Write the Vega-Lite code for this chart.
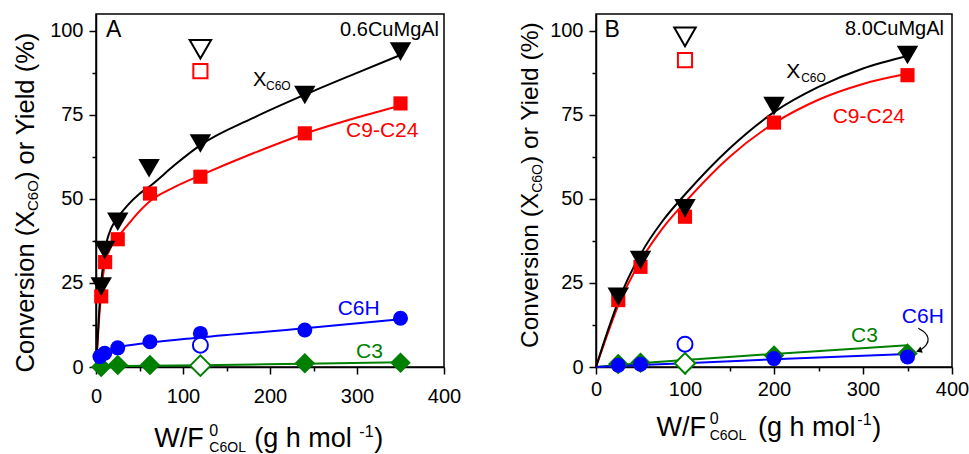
{
  "$schema": "https://vega.github.io/schema/vega-lite/v6.json",
  "background": "white",
  "padding": {"left": 13, "top": 13, "right": 10, "bottom": 0},
  "spacing": 152,
  "bounds": "flush",
  "config": {
    "view": {"stroke": "black", "strokeWidth": 1.5},
    "font": "Liberation Sans",
    "axis": {"domainColor": "black", "domainWidth": 1.5, "tickColor": "black", "tickWidth": 1.5, "labelColor": "black", "labelFont": "Liberation Sans", "labelFontSize": 20, "grid": false, "labelOverlap": false, "labelFlush": false},
    "text": {"font": "Liberation Sans"}
  },
  "datasets": {
    "fitA": [
      {"s": "C3", "x": 0, "y": 0.2}, {"s": "C3", "x": 60, "y": 0.4}, {"s": "C3", "x": 120, "y": 0.5}, {"s": "C3", "x": 240, "y": 1.0}, {"s": "C3", "x": 350, "y": 1.4},
      {"s": "C6H", "x": 0, "y": 3}, {"s": "C6H", "x": 5, "y": 3.9}, {"s": "C6H", "x": 10, "y": 4.6}, {"s": "C6H", "x": 25, "y": 5.8}, {"s": "C6H", "x": 60, "y": 7.2}, {"s": "C6H", "x": 120, "y": 8.8}, {"s": "C6H", "x": 240, "y": 11.5}, {"s": "C6H", "x": 350, "y": 14.2},
      {"s": "C9", "x": 0, "y": 0}, {"s": "C9", "x": 2, "y": 8}, {"s": "C9", "x": 4, "y": 16}, {"s": "C9", "x": 6, "y": 22}, {"s": "C9", "x": 8, "y": 27}, {"s": "C9", "x": 10, "y": 30.5}, {"s": "C9", "x": 15, "y": 34.5}, {"s": "C9", "x": 20, "y": 37}, {"s": "C9", "x": 25, "y": 38.7}, {"s": "C9", "x": 35, "y": 41.8}, {"s": "C9", "x": 42, "y": 44}, {"s": "C9", "x": 63, "y": 49.5}, {"s": "C9", "x": 90, "y": 53.5}, {"s": "C9", "x": 120, "y": 57}, {"s": "C9", "x": 180, "y": 63.5}, {"s": "C9", "x": 240, "y": 69.4}, {"s": "C9", "x": 300, "y": 74.2}, {"s": "C9", "x": 350, "y": 77.8},
      {"s": "X", "x": 0, "y": 0}, {"s": "X", "x": 2, "y": 9}, {"s": "X", "x": 4, "y": 18}, {"s": "X", "x": 6, "y": 25}, {"s": "X", "x": 8, "y": 30}, {"s": "X", "x": 10, "y": 34}, {"s": "X", "x": 13, "y": 38}, {"s": "X", "x": 17, "y": 41}, {"s": "X", "x": 21, "y": 43}, {"s": "X", "x": 25, "y": 44.5}, {"s": "X", "x": 36, "y": 48}, {"s": "X", "x": 50, "y": 51.5}, {"s": "X", "x": 63, "y": 54}, {"s": "X", "x": 90, "y": 60}, {"s": "X", "x": 120, "y": 66}, {"s": "X", "x": 180, "y": 74}, {"s": "X", "x": 240, "y": 81}, {"s": "X", "x": 300, "y": 87.5}, {"s": "X", "x": 350, "y": 92.8}
    ],
    "ptsA": [
      {"s": "C3", "x": 6, "y": 0, "o": 0}, {"s": "C3", "x": 25, "y": 0.6, "o": 0}, {"s": "C3", "x": 62, "y": 0.6, "o": 0}, {"s": "C3", "x": 240, "y": 1.1, "o": 0}, {"s": "C3", "x": 350, "y": 1.3, "o": 0}, {"s": "C3", "x": 120, "y": 0.4, "o": 1},
      {"s": "C6H", "x": 4.5, "y": 3.1, "o": 0}, {"s": "C6H", "x": 10, "y": 4.1, "o": 0}, {"s": "C6H", "x": 25, "y": 5.7, "o": 0}, {"s": "C6H", "x": 62, "y": 7.5, "o": 0}, {"s": "C6H", "x": 120, "y": 10, "o": 0}, {"s": "C6H", "x": 240, "y": 11, "o": 0}, {"s": "C6H", "x": 350, "y": 14.5, "o": 0}, {"s": "C6H", "x": 120, "y": 6.5, "o": 1},
      {"s": "C9", "x": 6, "y": 21, "o": 0}, {"s": "C9", "x": 10.5, "y": 31.2, "o": 0}, {"s": "C9", "x": 25, "y": 38, "o": 0}, {"s": "C9", "x": 62, "y": 51.6, "o": 0}, {"s": "C9", "x": 120, "y": 56.6, "o": 0}, {"s": "C9", "x": 240, "y": 69.5, "o": 0}, {"s": "C9", "x": 350, "y": 78.4, "o": 0}, {"s": "C9", "x": 120, "y": 88, "o": 1},
      {"s": "X", "x": 6, "y": 23.9, "o": 0}, {"s": "X", "x": 10, "y": 34.8, "o": 0}, {"s": "X", "x": 25, "y": 43.2, "o": 0}, {"s": "X", "x": 61, "y": 59.1, "o": 0}, {"s": "X", "x": 120, "y": 66.5, "o": 0}, {"s": "X", "x": 240, "y": 80.9, "o": 0}, {"s": "X", "x": 350, "y": 93.8, "o": 0}, {"s": "X", "x": 120, "y": 94.5, "o": 1}
    ],
    "fitB": [
      {"s": "C3", "x": 0, "y": 0}, {"s": "C3", "x": 25, "y": 0.6}, {"s": "C3", "x": 50, "y": 1.1}, {"s": "C3", "x": 100, "y": 2.1}, {"s": "C3", "x": 200, "y": 3.9}, {"s": "C3", "x": 350, "y": 6.5},
      {"s": "C6H", "x": 0, "y": 0}, {"s": "C6H", "x": 25, "y": 0.3}, {"s": "C6H", "x": 50, "y": 0.6}, {"s": "C6H", "x": 100, "y": 1.1}, {"s": "C6H", "x": 200, "y": 2.3}, {"s": "C6H", "x": 350, "y": 3.9},
      {"s": "C9", "x": 0, "y": 0}, {"s": "C9", "x": 10, "y": 7.6}, {"s": "C9", "x": 25, "y": 18.3}, {"s": "C9", "x": 50, "y": 31.5}, {"s": "C9", "x": 75, "y": 41.3}, {"s": "C9", "x": 100, "y": 49}, {"s": "C9", "x": 150, "y": 62.5}, {"s": "C9", "x": 200, "y": 72.5}, {"s": "C9", "x": 250, "y": 79.5}, {"s": "C9", "x": 300, "y": 84.2}, {"s": "C9", "x": 350, "y": 87.2},
      {"s": "X", "x": 0, "y": 0}, {"s": "X", "x": 10, "y": 8.2}, {"s": "X", "x": 25, "y": 19.5}, {"s": "X", "x": 50, "y": 33.5}, {"s": "X", "x": 75, "y": 43.5}, {"s": "X", "x": 100, "y": 51.3}, {"s": "X", "x": 150, "y": 65}, {"s": "X", "x": 200, "y": 75.8}, {"s": "X", "x": 250, "y": 83.3}, {"s": "X", "x": 300, "y": 88.8}, {"s": "X", "x": 350, "y": 92.5}
    ],
    "ptsB": [
      {"s": "C3", "x": 25, "y": 0.9, "o": 0}, {"s": "C3", "x": 50, "y": 1.3, "o": 0}, {"s": "C3", "x": 200, "y": 3.4, "o": 0}, {"s": "C3", "x": 350, "y": 4.0, "o": 0}, {"s": "C3", "x": 100, "y": 1.1, "o": 1},
      {"s": "C6H", "x": 25, "y": 0.5, "o": 0}, {"s": "C6H", "x": 50, "y": 0.8, "o": 0}, {"s": "C6H", "x": 200, "y": 2.5, "o": 0}, {"s": "C6H", "x": 350, "y": 3.0, "o": 0}, {"s": "C6H", "x": 100, "y": 6.8, "o": 1},
      {"s": "C9", "x": 25, "y": 19.9, "o": 0}, {"s": "C9", "x": 50, "y": 29.8, "o": 0}, {"s": "C9", "x": 100, "y": 44.7, "o": 0}, {"s": "C9", "x": 200, "y": 72.7, "o": 0}, {"s": "C9", "x": 350, "y": 86.8, "o": 0}, {"s": "C9", "x": 100, "y": 91.3, "o": 1},
      {"s": "X", "x": 25, "y": 20.9, "o": 0}, {"s": "X", "x": 50, "y": 31.8, "o": 0}, {"s": "X", "x": 100, "y": 47.2, "o": 0}, {"s": "X", "x": 200, "y": 77.6, "o": 0}, {"s": "X", "x": 350, "y": 92.8, "o": 0}, {"s": "X", "x": 100, "y": 98.2, "o": 1}
    ],
    "arrB": [
      {"i": 0, "x": 362.2, "y": 11.5}, {"i": 1, "x": 369.7, "y": 10.4}, {"i": 2, "x": 374.2, "y": 8.6}, {"i": 3, "x": 372.0, "y": 6.5}, {"i": 4, "x": 365.3, "y": 5.2}
    ],
    "one": [{}]
  },
  "hconcat": [
    {
      "width": 348,
      "height": 353,
      "layer": [
        {
          "data": {"name": "fitA"},
          "mark": {"type": "line", "interpolate": "monotone", "strokeWidth": 2},
          "encoding": {
            "x": {"field": "x", "type": "quantitative", "title": null, "scale": {"domain": [0, 400], "nice": false, "zero": false},
              "axis": {"values": [0, 50, 100, 150, 200, 250, 300, 350, 400], "format": "d", "labelExpr": "datum.value % 100 === 0 ? datum.label : ''", "tickSize": {"condition": {"test": "datum.value % 100 === 0", "value": 7}, "value": 4}, "labelPadding": 12, "title": null}},
            "y": {"field": "y", "type": "quantitative", "title": null, "scale": {"domain": [0, 105], "nice": false, "zero": false},
              "axis": {"values": [0, 12.5, 25, 37.5, 50, 62.5, 75, 87.5, 100], "labelExpr": "datum.value % 25 === 0 ? format(datum.value, 'd') : ''", "tickSize": {"condition": {"test": "datum.value % 25 === 0", "value": 7}, "value": 4}, "labelPadding": 6, "title": null}},
            "color": {"field": "s", "type": "nominal", "scale": {"domain": ["C3", "C6H", "C9", "X"], "range": ["#008000", "#0000FF", "#FF0000", "#000000"]}, "legend": null}
          }
        },
        {
          "data": {"name": "ptsA"},
          "transform": [{"filter": "datum.o == 0"}],
          "mark": {"type": "point", "filled": true, "opacity": 1},
          "encoding": {
            "x": {"field": "x", "type": "quantitative", "title": null},
            "y": {"field": "y", "type": "quantitative", "title": null},
            "color": {"field": "s", "type": "nominal", "legend": null},
            "shape": {"field": "s", "type": "nominal", "scale": {"domain": ["C3", "C6H", "C9", "X"], "range": ["diamond", "circle", "square", "triangle-down"]}, "legend": null},
            "size": {"field": "s", "type": "nominal", "scale": {"type": "ordinal", "domain": ["C3", "C6H", "C9", "X"], "range": [420, 225, 200, 460]}, "legend": null}
          }
        },
        {
          "data": {"name": "ptsA"},
          "transform": [{"filter": "datum.o == 1"}],
          "mark": {"type": "point", "filled": false, "fill": "white", "fillOpacity": 1, "strokeWidth": 2, "opacity": 1},
          "encoding": {
            "x": {"field": "x", "type": "quantitative", "title": null},
            "y": {"field": "y", "type": "quantitative", "title": null},
            "color": {"field": "s", "type": "nominal", "legend": null},
            "shape": {"field": "s", "type": "nominal", "scale": {"domain": ["C3", "C6H", "C9", "X"], "range": ["diamond", "circle", "square", "triangle-down"]}, "legend": null},
            "size": {"field": "s", "type": "nominal", "scale": {"type": "ordinal", "domain": ["C3", "C6H", "C9", "X"], "range": [420, 225, 200, 460]}, "legend": null}
          }
        },
        {"data": {"name": "one"}, "mark": {"type": "text", "text": "A", "align": "left", "baseline": "alphabetic", "fontSize": 23, "color": "black"}, "encoding": {"x": {"datum": 11.5, "type": "quantitative"}, "y": {"datum": 98.3, "type": "quantitative"}}},
        {"data": {"name": "one"}, "mark": {"type": "text", "text": "0.6CuMgAl", "align": "right", "baseline": "alphabetic", "fontSize": 20, "color": "black"}, "encoding": {"x": {"datum": 394.3, "type": "quantitative"}, "y": {"datum": 98.5, "type": "quantitative"}}},
        {"data": {"name": "one"}, "mark": {"type": "text", "text": "X", "align": "left", "baseline": "alphabetic", "fontSize": 20, "color": "black"}, "encoding": {"x": {"datum": 180.5, "type": "quantitative"}, "y": {"datum": 83.6, "type": "quantitative"}}},
        {"data": {"name": "one"}, "mark": {"type": "text", "text": "C6O", "align": "left", "baseline": "alphabetic", "fontSize": 12, "color": "black"}, "encoding": {"x": {"datum": 195.4, "type": "quantitative"}, "y": {"datum": 82.5, "type": "quantitative"}}},
        {"data": {"name": "one"}, "mark": {"type": "text", "text": "C9-C24", "align": "left", "baseline": "alphabetic", "fontSize": 21, "color": "#FF0000"}, "encoding": {"x": {"datum": 287.4, "type": "quantitative"}, "y": {"datum": 68.5, "type": "quantitative"}}},
        {"data": {"name": "one"}, "mark": {"type": "text", "text": "C6H", "align": "left", "baseline": "alphabetic", "fontSize": 21, "color": "#0000FF"}, "encoding": {"x": {"datum": 277.8, "type": "quantitative"}, "y": {"datum": 15.5, "type": "quantitative"}}},
        {"data": {"name": "one"}, "mark": {"type": "text", "text": "C3", "align": "left", "baseline": "alphabetic", "fontSize": 21, "color": "#008000"}, "encoding": {"x": {"datum": 298.9, "type": "quantitative"}, "y": {"datum": 2.6, "type": "quantitative"}}},
        {"data": {"name": "one"}, "mark": {"type": "text", "text": "W/F", "align": "left", "baseline": "alphabetic", "fontSize": 27, "color": "black"}, "encoding": {"x": {"datum": 67.0, "type": "quantitative"}, "y": {"datum": -23.8, "type": "quantitative"}}},
        {"data": {"name": "one"}, "mark": {"type": "text", "text": "0", "align": "left", "baseline": "alphabetic", "fontSize": 16, "color": "black"}, "encoding": {"x": {"datum": 130.3, "type": "quantitative"}, "y": {"datum": -20.4, "type": "quantitative"}}},
        {"data": {"name": "one"}, "mark": {"type": "text", "text": "C6OL", "align": "left", "baseline": "alphabetic", "fontSize": 14, "color": "black"}, "encoding": {"x": {"datum": 130.3, "type": "quantitative"}, "y": {"datum": -25.4, "type": "quantitative"}}},
        {"data": {"name": "one"}, "mark": {"type": "text", "text": "(g h mol", "align": "left", "baseline": "alphabetic", "fontSize": 27, "color": "black"}, "encoding": {"x": {"datum": 182.0, "type": "quantitative"}, "y": {"datum": -23.8, "type": "quantitative"}}},
        {"data": {"name": "one"}, "mark": {"type": "text", "text": "-1", "align": "left", "baseline": "alphabetic", "fontSize": 16, "color": "black"}, "encoding": {"x": {"datum": 302.7, "type": "quantitative"}, "y": {"datum": -20.7, "type": "quantitative"}}},
        {"data": {"name": "one"}, "mark": {"type": "text", "text": ")", "align": "left", "baseline": "alphabetic", "fontSize": 27, "color": "black"}, "encoding": {"x": {"datum": 319.9, "type": "quantitative"}, "y": {"datum": -23.8, "type": "quantitative"}}},
        {"data": {"name": "one"}, "mark": {"type": "text", "text": "Conversion (X", "align": "left", "baseline": "alphabetic", "angle": 270, "fontSize": 25.5, "color": "black"}, "encoding": {"x": {"datum": -71.3, "type": "quantitative"}, "y": {"datum": -1.6, "type": "quantitative"}}},
        {"data": {"name": "one"}, "mark": {"type": "text", "text": "C6O", "align": "left", "baseline": "alphabetic", "angle": 270, "fontSize": 15, "color": "black"}, "encoding": {"x": {"datum": -67.2, "type": "quantitative"}, "y": {"datum": 46.4, "type": "quantitative"}}},
        {"data": {"name": "one"}, "mark": {"type": "text", "text": ") or Yield (%)", "align": "left", "baseline": "alphabetic", "angle": 270, "fontSize": 25.5, "color": "black"}, "encoding": {"x": {"datum": -71.3, "type": "quantitative"}, "y": {"datum": 55.6, "type": "quantitative"}}}
      ]
    },
    {
      "width": 356,
      "height": 353,
      "layer": [
        {
          "data": {"name": "fitB"},
          "mark": {"type": "line", "interpolate": "monotone", "strokeWidth": 2},
          "encoding": {
            "x": {"field": "x", "type": "quantitative", "title": null, "scale": {"domain": [0, 400], "nice": false, "zero": false},
              "axis": {"values": [0, 50, 100, 150, 200, 250, 300, 350, 400], "format": "d", "labelExpr": "datum.value % 100 === 0 ? datum.label : ''", "tickSize": {"condition": {"test": "datum.value % 100 === 0", "value": 7}, "value": 4}, "labelPadding": 5, "title": null}},
            "y": {"field": "y", "type": "quantitative", "title": null, "scale": {"domain": [0, 105], "nice": false, "zero": false},
              "axis": {"values": [0, 12.5, 25, 37.5, 50, 62.5, 75, 87.5, 100], "labelExpr": "datum.value % 25 === 0 ? format(datum.value, 'd') : ''", "tickSize": {"condition": {"test": "datum.value % 25 === 0", "value": 7}, "value": 4}, "labelPadding": 6, "title": null}},
            "color": {"field": "s", "type": "nominal", "scale": {"domain": ["C3", "C6H", "C9", "X"], "range": ["#008000", "#0000FF", "#FF0000", "#000000"]}, "legend": null}
          }
        },
        {
          "data": {"name": "arrB"},
          "mark": {"type": "line", "interpolate": "basis", "strokeWidth": 1.2, "color": "black"},
          "encoding": {
            "x": {"field": "x", "type": "quantitative", "title": null},
            "y": {"field": "y", "type": "quantitative", "title": null},
            "order": {"field": "i", "type": "quantitative"}
          }
        },
        {"data": {"name": "one"}, "mark": {"type": "point", "shape": "triangle-left", "filled": true, "color": "black", "size": 45, "angle": 340, "opacity": 1}, "encoding": {"x": {"datum": 362.8, "type": "quantitative"}, "y": {"datum": 4.85, "type": "quantitative"}}},
        {
          "data": {"name": "ptsB"},
          "transform": [{"filter": "datum.o == 0"}],
          "mark": {"type": "point", "filled": true, "opacity": 1},
          "encoding": {
            "x": {"field": "x", "type": "quantitative", "title": null},
            "y": {"field": "y", "type": "quantitative", "title": null},
            "color": {"field": "s", "type": "nominal", "legend": null},
            "shape": {"field": "s", "type": "nominal", "scale": {"domain": ["C3", "C6H", "C9", "X"], "range": ["diamond", "circle", "square", "triangle-down"]}, "legend": null},
            "size": {"field": "s", "type": "nominal", "scale": {"type": "ordinal", "domain": ["C3", "C6H", "C9", "X"], "range": [420, 225, 200, 460]}, "legend": null}
          }
        },
        {
          "data": {"name": "ptsB"},
          "transform": [{"filter": "datum.o == 1"}],
          "mark": {"type": "point", "filled": false, "fill": "white", "fillOpacity": 1, "strokeWidth": 2, "opacity": 1},
          "encoding": {
            "x": {"field": "x", "type": "quantitative", "title": null},
            "y": {"field": "y", "type": "quantitative", "title": null},
            "color": {"field": "s", "type": "nominal", "legend": null},
            "shape": {"field": "s", "type": "nominal", "scale": {"domain": ["C3", "C6H", "C9", "X"], "range": ["diamond", "circle", "square", "triangle-down"]}, "legend": null},
            "size": {"field": "s", "type": "nominal", "scale": {"type": "ordinal", "domain": ["C3", "C6H", "C9", "X"], "range": [420, 225, 200, 460]}, "legend": null}
          }
        },
        {"data": {"name": "one"}, "mark": {"type": "text", "text": "B", "align": "left", "baseline": "alphabetic", "fontSize": 23, "color": "black"}, "encoding": {"x": {"datum": 9.5, "type": "quantitative"}, "y": {"datum": 98.3, "type": "quantitative"}}},
        {"data": {"name": "one"}, "mark": {"type": "text", "text": "8.0CuMgAl", "align": "right", "baseline": "alphabetic", "fontSize": 20, "color": "black"}, "encoding": {"x": {"datum": 391, "type": "quantitative"}, "y": {"datum": 98.7, "type": "quantitative"}}},
        {"data": {"name": "one"}, "mark": {"type": "text", "text": "X", "align": "left", "baseline": "alphabetic", "fontSize": 21, "color": "black"}, "encoding": {"x": {"datum": 213.7, "type": "quantitative"}, "y": {"datum": 85.9, "type": "quantitative"}}},
        {"data": {"name": "one"}, "mark": {"type": "text", "text": "C6O", "align": "left", "baseline": "alphabetic", "fontSize": 12, "color": "black"}, "encoding": {"x": {"datum": 230.5, "type": "quantitative"}, "y": {"datum": 84.9, "type": "quantitative"}}},
        {"data": {"name": "one"}, "mark": {"type": "text", "text": "C9-C24", "align": "left", "baseline": "alphabetic", "fontSize": 21, "color": "#FF0000"}, "encoding": {"x": {"datum": 265.9, "type": "quantitative"}, "y": {"datum": 72.7, "type": "quantitative"}}},
        {"data": {"name": "one"}, "mark": {"type": "text", "text": "C6H", "align": "left", "baseline": "alphabetic", "fontSize": 21, "color": "#0000FF"}, "encoding": {"x": {"datum": 343.6, "type": "quantitative"}, "y": {"datum": 13.2, "type": "quantitative"}}},
        {"data": {"name": "one"}, "mark": {"type": "text", "text": "C3", "align": "left", "baseline": "alphabetic", "fontSize": 21, "color": "#008000"}, "encoding": {"x": {"datum": 286.5, "type": "quantitative"}, "y": {"datum": 7.5, "type": "quantitative"}}},
        {"data": {"name": "one"}, "mark": {"type": "text", "text": "W/F", "align": "left", "baseline": "alphabetic", "fontSize": 27, "color": "black"}, "encoding": {"x": {"datum": 68.0, "type": "quantitative"}, "y": {"datum": -20.5, "type": "quantitative"}}},
        {"data": {"name": "one"}, "mark": {"type": "text", "text": "0", "align": "left", "baseline": "alphabetic", "fontSize": 16, "color": "black"}, "encoding": {"x": {"datum": 127.7, "type": "quantitative"}, "y": {"datum": -16.9, "type": "quantitative"}}},
        {"data": {"name": "one"}, "mark": {"type": "text", "text": "C6OL", "align": "left", "baseline": "alphabetic", "fontSize": 14, "color": "black"}, "encoding": {"x": {"datum": 127.7, "type": "quantitative"}, "y": {"datum": -21.7, "type": "quantitative"}}},
        {"data": {"name": "one"}, "mark": {"type": "text", "text": "(g h mol", "align": "left", "baseline": "alphabetic", "fontSize": 27, "color": "black"}, "encoding": {"x": {"datum": 181.9, "type": "quantitative"}, "y": {"datum": -20.5, "type": "quantitative"}}},
        {"data": {"name": "one"}, "mark": {"type": "text", "text": "-1", "align": "left", "baseline": "alphabetic", "fontSize": 16, "color": "black"}, "encoding": {"x": {"datum": 293.6, "type": "quantitative"}, "y": {"datum": -17.25, "type": "quantitative"}}},
        {"data": {"name": "one"}, "mark": {"type": "text", "text": ")", "align": "left", "baseline": "alphabetic", "fontSize": 27, "color": "black"}, "encoding": {"x": {"datum": 310.4, "type": "quantitative"}, "y": {"datum": -20.5, "type": "quantitative"}}},
        {"data": {"name": "one"}, "mark": {"type": "text", "text": "Conversion (X", "align": "left", "baseline": "alphabetic", "angle": 270, "fontSize": 24.5, "color": "black"}, "encoding": {"x": {"datum": -65, "type": "quantitative"}, "y": {"datum": 5.65, "type": "quantitative"}}},
        {"data": {"name": "one"}, "mark": {"type": "text", "text": "C6O", "align": "left", "baseline": "alphabetic", "angle": 270, "fontSize": 14, "color": "black"}, "encoding": {"x": {"datum": -61.1, "type": "quantitative"}, "y": {"datum": 51.8, "type": "quantitative"}}},
        {"data": {"name": "one"}, "mark": {"type": "text", "text": ") or Yield (%)", "align": "left", "baseline": "alphabetic", "angle": 270, "fontSize": 24.5, "color": "black"}, "encoding": {"x": {"datum": -65, "type": "quantitative"}, "y": {"datum": 60.4, "type": "quantitative"}}}
      ]
    }
  ]
}
